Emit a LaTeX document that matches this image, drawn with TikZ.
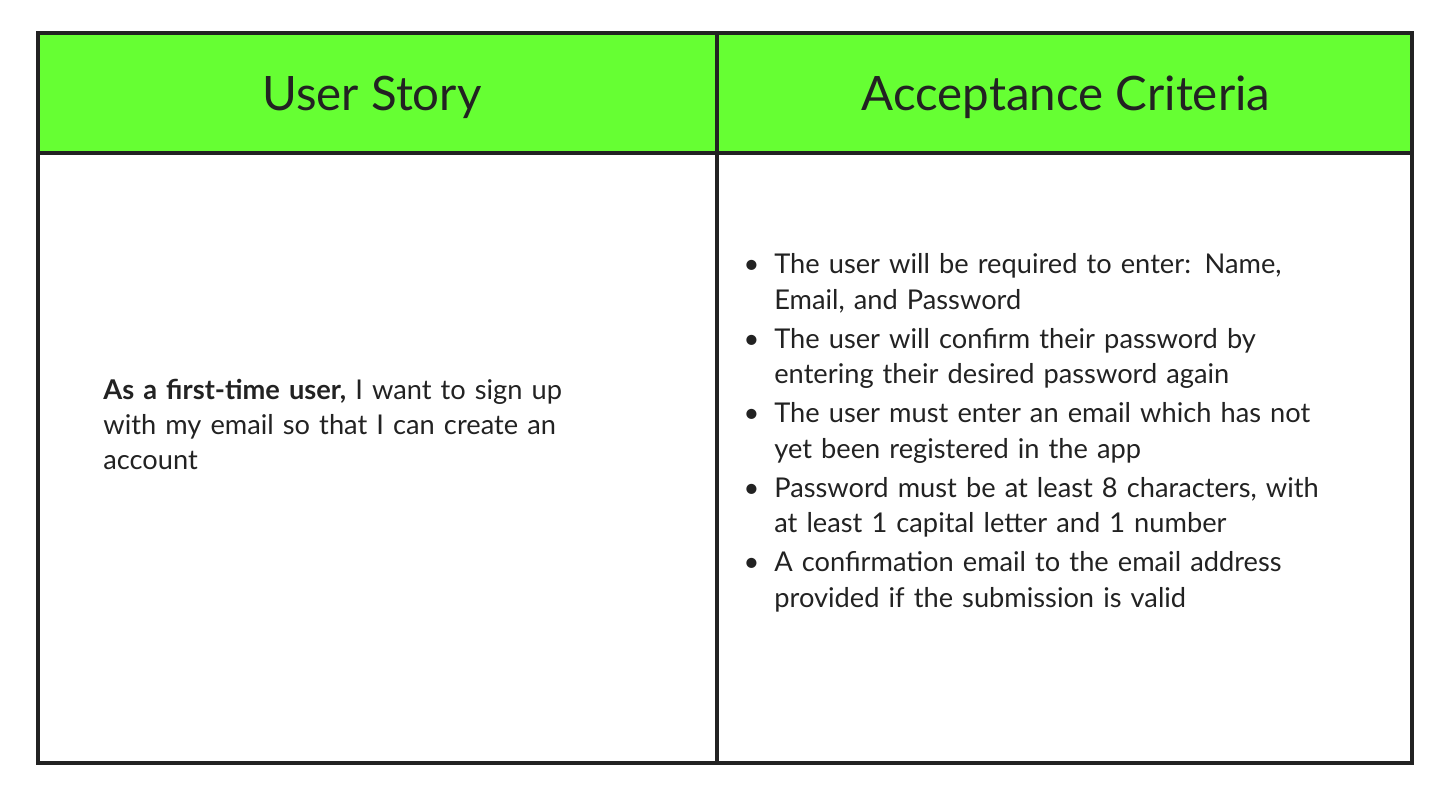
\documentclass[tikz,border=0pt]{standalone}
\usepackage{fontspec}
\setmainfont{Lato}
\usepackage{enumitem}
\usetikzlibrary{positioning}
\definecolor{headgreen}{HTML}{66FF33}
\definecolor{framegray}{HTML}{222222}
\tikzset{
  frameline/.style={draw=framegray,line width=2.8pt},
  headtext/.style={font=\fontsize{27}{32}\selectfont,text=framegray},
  bodytext/.style={font=\fontsize{15.5}{20}\selectfont,text=framegray,align=left,anchor=north west,inner sep=0pt}
}
\begin{document}
\begin{tikzpicture}
\useasboundingbox (0,0) rectangle (28.8,16.02);
\fill[headgreen](0.76,12.96)rectangle(28.24,15.36); %header band
\draw[frameline](0.76,0.76)rectangle(28.24,15.36); %outer frame
\draw[frameline](0.76,12.96)--(28.24,12.96); %header rule
\draw[frameline](14.34,0.76)--(14.34,15.36); %divider

%headers
\node[headtext] (story) at (7.44,14.08){User Story};
\node[headtext] (criteria) at (21.32,14.08){Acceptance Criteria};

%story text
\node[bodytext,text width=10.5cm] (storytext) at (2.06,8.45)
  {\textbf{As a first-time user,} I want to sign up\\with my email so that I can create an\\account};

%criteria list
\node[bodytext,text width=13cm] (crittext) at (14.96,10.95){%
\begin{minipage}{13cm}
\begin{itemize}[leftmargin=0.52cm,labelsep=0.3cm,itemsep=2.4pt,topsep=0pt,parsep=0pt]
\item The user will be required to enter: Name,\\Email, and Password
\item The user will confirm their password by\\entering their desired password again
\item The user must enter an email which has not\\yet been registered in the app
\item Password must be at least 8 characters, with\\at least 1 capital letter and 1 number
\item A confirmation email to the email address\\provided if the submission is valid
\end{itemize}
\end{minipage}};
\end{tikzpicture}
\end{document}
